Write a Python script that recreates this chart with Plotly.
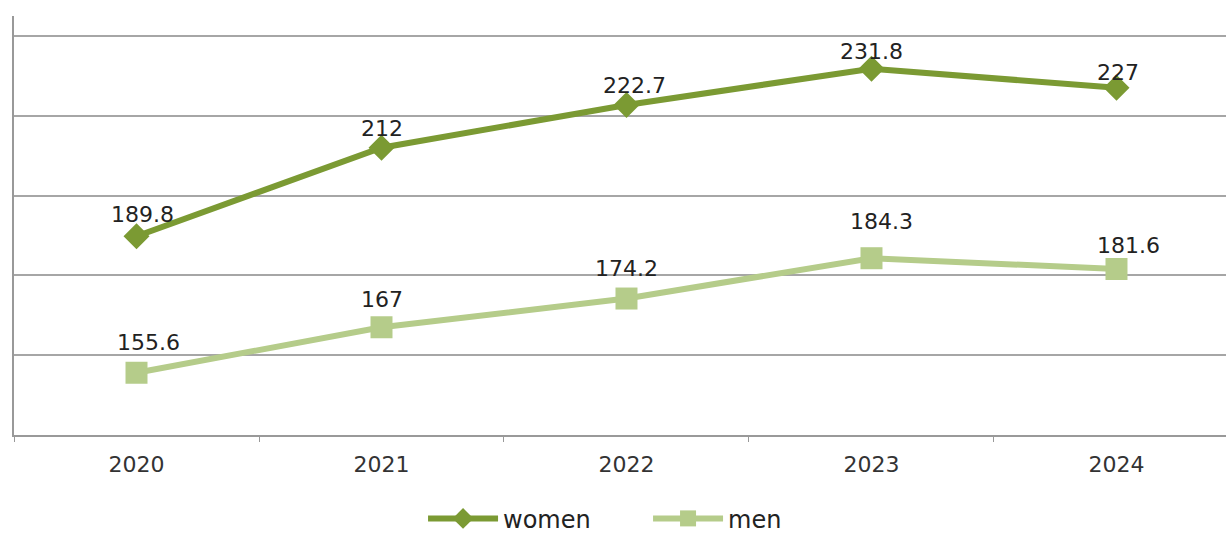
import plotly.graph_objects as go

years = ["2020", "2021", "2022", "2023", "2024"]
women = [189.8, 212, 222.7, 231.8, 227]
men = [155.6, 167, 174.2, 184.3, 181.6]
women_label_shift = [22, 19, 19, 17, 15]
men_label_shift = [30, 28, 30, 37, 24]
women_label_dx = [6, 0, 8, 0, 2]
men_label_dx = [12, 0, 0, 10, 12]

C_WOMEN = "#7b9a33"
C_MEN = "#b5cc8a"
FONT = "DejaVu Sans"

fig = go.Figure()
fig.add_trace(go.Scatter(
    x=years, y=women, name="women", mode="lines+markers",
    line=dict(color=C_WOMEN, width=6),
    marker=dict(symbol="diamond", size=20, color=C_WOMEN),
))
fig.add_trace(go.Scatter(
    x=years, y=men, name="men", mode="lines+markers",
    line=dict(color=C_MEN, width=6),
    marker=dict(symbol="square", size=22, color=C_MEN),
))

ann = []
for i, (y, s, dx) in enumerate(zip(women, women_label_shift, women_label_dx)):
    ann.append(dict(xref="x", yref="y", x=i, y=y, text=f"{y:g}", showarrow=False,
                    yshift=s, xshift=dx,
                    font=dict(size=22, color="#222222", family=FONT)))
for i, (y, s, dx) in enumerate(zip(men, men_label_shift, men_label_dx)):
    ann.append(dict(xref="x", yref="y", x=i, y=y, text=f"{y:g}", showarrow=False,
                    yshift=s, xshift=dx,
                    font=dict(size=22, color="#222222", family=FONT)))

fig.update_layout(
    width=1226, height=533,
    margin=dict(l=14, r=0, t=16, b=98, autoexpand=False),
    paper_bgcolor="white", plot_bgcolor="white",
    showlegend=True,
    legend=dict(orientation="h", x=0.3375, xanchor="left", y=-0.2, yanchor="middle",
                font=dict(size=24, color="#222222", family=FONT),
                itemwidth=70, entrywidth=140, traceorder="normal"),
    annotations=ann,
    font=dict(family=FONT),
)
fig.update_xaxes(
    type="category", range=[-0.5, 4.447],
    showline=True, linecolor="#999999", linewidth=2,
    showgrid=False, ticks="outside", tickson="boundaries", ticklen=5,
    tickcolor="#999999", tickwidth=1, ticklabelstandoff=9,
    tickfont=dict(size=22, color="#333333", family=FONT),
)
fig.update_yaxes(
    range=[140, 245], tick0=140, dtick=20,
    showgrid=True, gridcolor="#a6a6a6", gridwidth=2,
    showline=True, linecolor="#999999", linewidth=2,
    showticklabels=False, ticks="", zeroline=False,
)
fig.write_html("out.html", config={"displayModeBar": False},
               post_script="document.body.style.margin='0';document.body.style.overflow='hidden';")
